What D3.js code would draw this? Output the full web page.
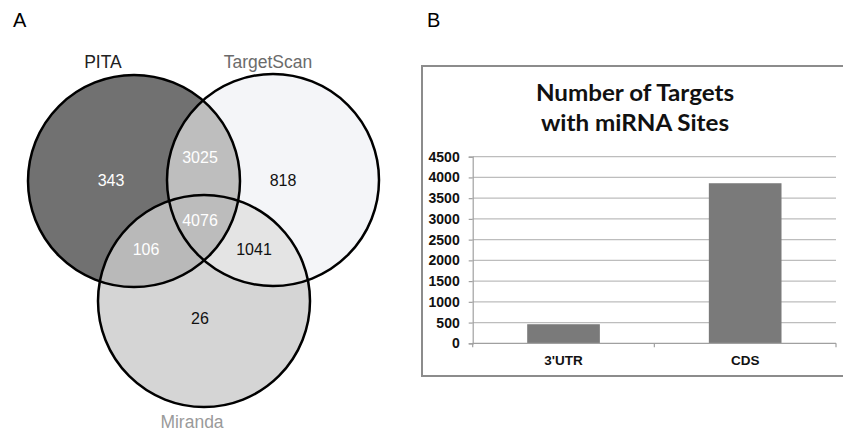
<!DOCTYPE html>
<html>
<head>
<meta charset="utf-8">
<script src="https://cdn.jsdelivr.net/npm/d3@7"></script>
<style>
  body { margin: 0; background: #fff; }
  svg { display: block; }
</style>
</head>
<body>
<script>
//// Data ////
// Venn: sets and region counts
const setNames = ["PITA", "TargetScan", "Miranda"]
const regionKeys = ["P", "T", "M", "PT", "PM", "TM", "PTM"]
const regionCounts = [343, 818, 26, 3025, 106, 1041, 4076]

// Bar chart
const barCategories = ["3'UTR", "CDS"]
const barValues = [460, 3860]
const yTicks = [0, 500, 1000, 1500, 2000, 2500, 3000, 3500, 4000, 4500]
const chartTitle = ["Number of Targets", "with miRNA Sites"]

//// Layout ////
const WIDTH = 843
const HEIGHT = 435
const R = 106

const svg = d3.select("body").append("svg")
    .attr("width", WIDTH)
    .attr("height", HEIGHT)

/// Panel A: Venn ///
const circles = [
    { name: setNames[0], cx: 134, cy: 181, labelColor: "#222", lx: 103, ly: 68, fill: "#717171" },
    { name: setNames[1], cx: 273, cy: 180, labelColor: "#6b6b6b", lx: 268, ly: 68, fill: "#f4f5f8" },
    { name: setNames[2], cx: 204, cy: 301, labelColor: "#9a9a9a", lx: 192, ly: 428, fill: "#d5d5d5" }
]

const regionStyle = {
    P:   { x: 111, y: 180, color: "#fff" },
    T:   { x: 283, y: 180, color: "#111" },
    M:   { x: 200, y: 318, color: "#111" },
    PT:  { x: 200, y: 157, color: "#fff" },
    PM:  { x: 146, y: 249, color: "#fff" },
    TM:  { x: 254, y: 249, color: "#111" },
    PTM: { x: 200, y: 220, color: "#fff" }
}

const defs = svg.append("defs")
circles.forEach((c, i) => {
    defs.append("clipPath").attr("id", "clip" + i)
        .append("circle").attr("cx", c.cx).attr("cy", c.cy).attr("r", R)
})

const venn = svg.append("g")

// base fills
venn.selectAll("circle.base")
    .data(circles)
    .join("circle")
    .attr("class", "base")
    .attr("cx", d => d.cx).attr("cy", d => d.cy).attr("r", R)
    .attr("fill", d => d.fill)

function overlap(a, b, color) {
    venn.append("g").attr("clip-path", `url(#clip${a})`)
        .append("circle")
        .attr("cx", circles[b].cx).attr("cy", circles[b].cy).attr("r", R)
        .attr("fill", color)
}
overlap(1, 2, "#e4e4e4")
overlap(0, 1, "#bebebe")
overlap(0, 2, "#b9b9b9")
// triple
venn.append("g").attr("clip-path", "url(#clip0)")
    .append("g").attr("clip-path", "url(#clip1)")
    .append("circle")
    .attr("cx", circles[2].cx).attr("cy", circles[2].cy).attr("r", R)
    .attr("fill", "#bcbcbc")

venn.selectAll("circle.edge")
    .data(circles)
    .join("circle")
    .attr("class", "edge")
    .attr("cx", d => d.cx).attr("cy", d => d.cy).attr("r", R)
    .attr("fill", "none")
    .attr("stroke", "#000")
    .attr("stroke-width", 2.5)

venn.selectAll("text.setname")
    .data(circles)
    .join("text")
    .attr("class", "setname")
    .attr("x", d => d.lx).attr("y", d => d.ly)
    .attr("text-anchor", "middle")
    .attr("font-family", "Liberation Sans, Arial, sans-serif")
    .attr("font-size", 17.5)
    .attr("fill", d => d.labelColor)
    .text(d => d.name)

venn.selectAll("text.count")
    .data(regionKeys.map((k, i) => ({ key: k, value: regionCounts[i] })))
    .join("text")
    .attr("class", "count")
    .attr("x", d => regionStyle[d.key].x)
    .attr("y", d => regionStyle[d.key].y)
    .attr("dy", "0.36em")
    .attr("text-anchor", "middle")
    .attr("font-family", "Liberation Sans, Arial, sans-serif")
    .attr("font-size", 16)
    .attr("fill", d => regionStyle[d.key].color)
    .text(d => d.value)

// panel letters
svg.append("text").attr("x", 13).attr("y", 27)
    .attr("font-family", "Liberation Sans, Arial, sans-serif")
    .attr("font-size", 20).text("A")
svg.append("text").attr("x", 427).attr("y", 27)
    .attr("font-family", "Liberation Sans, Arial, sans-serif")
    .attr("font-size", 20).text("B")

/// Panel B: bar chart ///
const box = { x: 422, y: 66, w: 421, h: 310 }
svg.append("rect")
    .attr("x", box.x).attr("y", box.y)
    .attr("width", box.w + 4).attr("height", box.h)
    .attr("fill", "#fff")
    .attr("stroke", "#8c8c8c")
    .attr("stroke-width", 2)

const plot = { left: 472.7, right: 836, top: 156.7, bottom: 343.3 }

const y = d3.scaleLinear().domain([0, 4500]).range([plot.bottom, plot.top])
const x = d3.scaleBand().domain(barCategories)
    .range([plot.left, plot.right])
    .paddingInner(0.6).paddingOuter(0.3)

const bar = svg.append("g")

// gridlines
bar.append("g")
    .selectAll("line")
    .data(yTicks.filter(t => t > 0))
    .join("line")
    .attr("x1", plot.left).attr("x2", plot.right)
    .attr("y1", d => y(d)).attr("y2", d => y(d))
    .attr("stroke", "#bdbdbd").attr("stroke-width", 1.2)

const yAxis = bar.append("g")
    .attr("transform", `translate(${plot.left},0)`)
    .call(d3.axisLeft(y).tickValues(yTicks).tickFormat(d3.format("d")).tickSize(4).tickPadding(9))
yAxis.select(".domain").attr("stroke", "#a0a0a0").attr("stroke-width", 1.2)
yAxis.selectAll(".tick line").attr("stroke", "#a0a0a0").attr("stroke-width", 1.2)
yAxis.selectAll("text")
    .attr("font-family", "Liberation Sans, Arial, sans-serif")
    .attr("font-weight", "bold")
    .attr("font-size", 14)
    .attr("fill", "#111")

bar.selectAll("rect.bar")
    .data(barCategories.map((c, i) => ({ cat: c, value: barValues[i] })))
    .join("rect")
    .attr("class", "bar")
    .attr("x", d => x(d.cat))
    .attr("width", x.bandwidth())
    .attr("y", d => y(d.value))
    .attr("height", d => y(0) - y(d.value))
    .attr("fill", "#7a7a7a")

// x axis with category-boundary ticks
bar.append("line")
    .attr("x1", plot.left).attr("x2", plot.right)
    .attr("y1", y(0)).attr("y2", y(0))
    .attr("stroke", "#a0a0a0").attr("stroke-width", 1.2)
const bounds = d3.range(barCategories.length + 1).map(i => plot.left + i * (plot.right - plot.left) / barCategories.length)
bar.selectAll("line.xtick")
    .data(bounds)
    .join("line")
    .attr("class", "xtick")
    .attr("x1", d => d).attr("x2", d => d)
    .attr("y1", y(0)).attr("y2", y(0) + 4)
    .attr("stroke", "#a0a0a0").attr("stroke-width", 1.2)

bar.selectAll("text.xlabel")
    .data(barCategories)
    .join("text")
    .attr("class", "xlabel")
    .attr("x", d => x(d) + x.bandwidth() / 2)
    .attr("y", y(0) + 22)
    .attr("text-anchor", "middle")
    .attr("font-family", "Liberation Sans, Arial, sans-serif")
    .attr("font-weight", "bold")
    .attr("font-size", 13.5)
    .attr("fill", "#111")
    .text(d => d)

bar.selectAll("text.title")
    .data(chartTitle)
    .join("text")
    .attr("class", "title")
    .attr("transform", (d, i) => `translate(635,${101 + i * 30}) scale(1.1,1)`)
    .attr("text-anchor", "middle")
    .attr("font-family", "Lato, 'Open Sans', sans-serif")
    .attr("font-weight", "bold")
    .attr("font-size", 22)
    .attr("fill", "#111")
    .text(d => d)
</script>
</body>
</html>
